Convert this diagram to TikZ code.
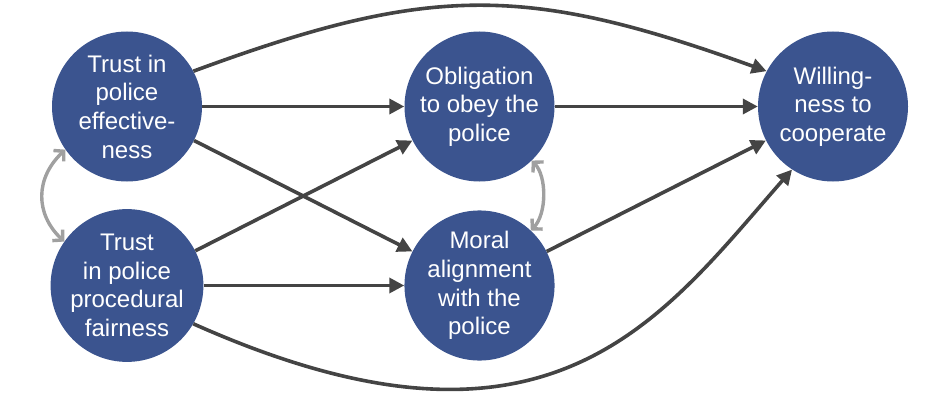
\documentclass[tikz,border=0pt]{standalone}
\usepackage{fontspec}
\setmainfont{Liberation Sans}
\usetikzlibrary{arrows.meta}
\definecolor{circblue}{HTML}{3B548F}
\definecolor{darkline}{HTML}{444444}
\definecolor{greyline}{HTML}{A0A0A0}
\tikzset{
  concept/.style={circle, fill=circblue, draw=none, minimum size=150pt, inner sep=0pt,
    text=white, align=center, font=\fontsize{24}{28.7}\selectfont},
  path/.style={draw=darkline, line width=3.6pt, -{Triangle[length=15pt,width=15pt]}},
  corr/.style={draw=greyline, line width=3.4pt, {Straight Barb[length=7pt,width=15pt]}-{Straight Barb[length=7pt,width=15pt]}}
}
\begin{document}
\begin{tikzpicture}[x=1pt,y=1pt]
\useasboundingbox (0,0) rectangle (952,408);
\node[concept] (E) at (127,301.5) {Trust in\\police\\effective-\\ness};
\node[concept] (P) at (127,122.5) {Trust\\in police\\procedural\\fairness};
\node[concept] (O) at (479.5,301.5) {Obligation\\to obey the\\police};
\node[concept] (M) at (479.5,122.5) {Moral\\alignment\\with the\\police};
\node[concept] (W) at (833,301.5) {Willing-\\ness to\\cooperate};

\draw[path] (E) -- (O);
\draw[path] (E) -- (M);
\draw[path] (P) -- (O);
\draw[path] (P) -- (M);
\draw[path] (O) -- (W);
\draw[path] (M) -- (W);
\draw[path] (E.28) .. controls (430,424) and (525,424) .. (W.152);
\draw[path] (P.-30) .. controls (550,-75) and (660,88) .. (W.237);

\draw[corr] (E.215) .. controls (35,230) and (35,194) .. (P.145);
\draw[corr] (O.-46) .. controls (547,232) and (547,194) .. (M.47);
\end{tikzpicture}
\end{document}
